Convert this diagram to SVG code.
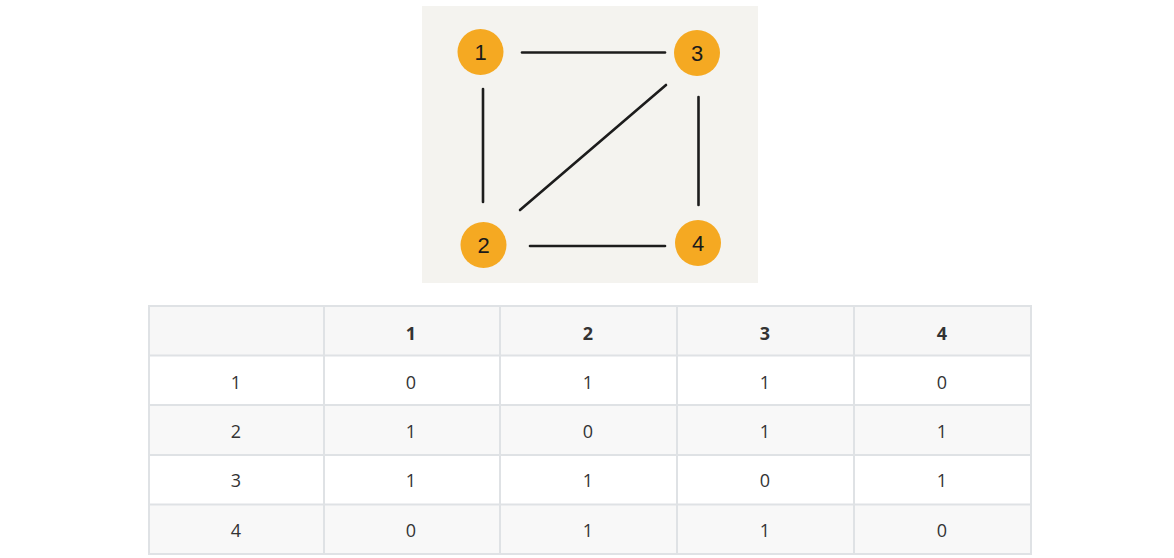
<svg xmlns="http://www.w3.org/2000/svg" width="1174" height="558" viewBox="0 0 1174 558">
<style>
.bg{fill:#f4f3ef}
.node circle{fill:#f5a922}
.node text{font-family:"Liberation Sans","DejaVu Sans",sans-serif;font-size:22px;fill:#1a1a1a;text-anchor:middle}
.edge{stroke:#1c1c1c;stroke-width:2.6;stroke-linecap:round;fill:none}
.grid{stroke:#dfe2e5;stroke-width:2;fill:none}
.cell{font-family:"Open Sans","Liberation Sans",sans-serif;font-size:18px;fill:#333;text-anchor:middle}
.hd{font-weight:bold}
</style>
<rect width="1174" height="558" fill="#ffffff"/>
<rect class="bg" x="422" y="6" width="336" height="277"/>
<g id="connectors">
<line class="edge" x1="522" y1="52.5" x2="665" y2="52.5"/>
<line class="edge" x1="483" y1="89" x2="483" y2="202"/>
<line class="edge" x1="698.5" y1="97" x2="698.5" y2="205"/>
<line class="edge" x1="530" y1="246" x2="665" y2="246"/>
<line class="edge" x1="666" y1="85" x2="520" y2="210"/>
</g>
<g id="node1" class="node"><circle cx="480.5" cy="52" r="23"/><text x="480.5" y="60">1</text></g>
<g id="node3" class="node"><circle cx="697" cy="53" r="23"/><text x="697" y="61">3</text></g>
<g id="node2" class="node"><circle cx="483.5" cy="245" r="23"/><text x="483.5" y="253">2</text></g>
<g id="node4" class="node"><circle cx="698" cy="243" r="23"/><text x="698" y="251">4</text></g>
<g id="table">
<rect x="149" y="306" width="882" height="49" fill="#f7f7f7"/>
<rect x="149" y="405" width="882" height="50" fill="#f8f8f8"/>
<rect x="149" y="504" width="882" height="50" fill="#f8f8f8"/>
<rect class="grid" x="149" y="306" width="882" height="248"/>
<path class="grid" d="M149 355.5H1031M149 405H1031M149 455H1031M149 504.5H1031M324 306V554M500 306V554M677 306V554M854 306V554"/>
<text class="cell hd" x="411" y="339.5">1</text>
<text class="cell hd" x="588" y="339.5">2</text>
<text class="cell hd" x="765" y="339.5">3</text>
<text class="cell hd" x="942" y="339.5">4</text>
<text class="cell" x="236" y="388.5">1</text><text class="cell" x="411" y="388.5">0</text><text class="cell" x="588" y="388.5">1</text><text class="cell" x="765" y="388.5">1</text><text class="cell" x="942" y="388.5">0</text>
<text class="cell" x="236" y="438">2</text><text class="cell" x="411" y="438">1</text><text class="cell" x="588" y="438">0</text><text class="cell" x="765" y="438">1</text><text class="cell" x="942" y="438">1</text>
<text class="cell" x="236" y="486.7">3</text><text class="cell" x="411" y="486.7">1</text><text class="cell" x="588" y="486.7">1</text><text class="cell" x="765" y="486.7">0</text><text class="cell" x="942" y="486.7">1</text>
<text class="cell" x="236" y="536.7">4</text><text class="cell" x="411" y="536.7">0</text><text class="cell" x="588" y="536.7">1</text><text class="cell" x="765" y="536.7">1</text><text class="cell" x="942" y="536.7">0</text>
</g>
</svg>
